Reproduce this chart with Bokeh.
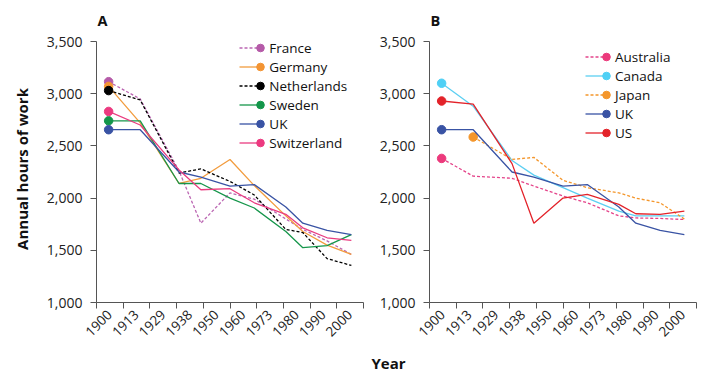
from bokeh.plotting import figure
from bokeh.layouts import row
from bokeh.models import (FixedTicker, NumeralTickFormatter, Range1d, Legend, LegendItem, Title)
from bokeh.embed import file_html
from bokeh.resources import INLINE

nan = float("nan")

# ---- data ----
years = [1900, 1913, 1929, 1938, 1950, 1960, 1973, 1980, 1990, 2000]
tick_labels = ["1900", "1913", "1929", "1938", "1950", "1960", "1973", "1980", "1990", "2000"]
y_ticks = [1000, 1500, 2000, 2500, 3000, 3500]

france      = [3115, 2950, 2260, 1760, 2050, 1990, 1800, 1700, 1590, 1460]
germany     = [3070, 2720, 2140, 2190, 2370, 2120, 1830, 1680, 1550, 1460]
netherlands = [3030, 2940, 2240, 2280, 2160, 2030, 1700, 1670, 1420, 1355]
sweden      = [2740, 2740, 2140, 2140, 2000, 1905, 1680, 1525, 1545, 1650]
uk          = [2655, 2655, 2250, 2200, 2115, 2130, 1915, 1760, 1690, 1650]
switzerland = [2830, 2700, 2270, 2080, 2090, 1955, 1845, 1715, 1620, 1595]

australia = [2380, 2210, 2190, 2115, 2020, 1955, 1830, 1810, 1805, 1795]
canada    = [3100, 2880, 2360, 2220, 2100, 2000, 1875, 1830, 1830, 1830]
japan     = [nan, 2585, 2370, 2390, 2170, 2100, 2050, 2000, 1955, 1800]
us        = [2930, 2900, 2330, 1760, 2000, 2035, 1940, 1850, 1845, 1875]

series_a = [
    ("France", france, "#bb66b2", "#b55aa8", "3 2"),
    ("Germany", germany, "#f29c3e", "#f39433", "solid"),
    ("Netherlands", netherlands, "#000000", "#000000", "3 2"),
    ("Sweden", sweden, "#16964b", "#13964a", "solid"),
    ("UK", uk, "#3953a4", "#3953a4", "solid"),
    ("Switzerland", switzerland, "#ea3c80", "#ec3a80", "solid"),
]
series_b = [
    ("Australia", australia, "#e4448a", "#ec3a7c", "3 2"),
    ("Canada", canada, "#5ccff2", "#4fd0f5", "solid"),
    ("Japan", japan, "#f4962b", "#f4962b", "3 2"),
    ("UK", uk, "#3953a4", "#3953a4", "solid"),
    ("US", us, "#e3232a", "#e3232a", "solid"),
]

FONT = "Open Sans"
X0, X1, STEP = 1895, 2005, 11
centers = [X0 + STEP / 2 + STEP * i for i in range(len(tick_labels))]
bounds = [X0 + STEP * i for i in range(len(tick_labels) + 1)]

Y0, Y1 = y_ticks[0], y_ticks[-1]
AXIS_H = 261            # pixels from 1,000 to 3,500
EXTRA = 6               # headroom above the 3,500 tick (for the legend)
y_top = Y1 + EXTRA * (Y1 - Y0) / AXIS_H


def make_panel(series, letter, left_border, right_border, ylabel, leg_xy):
    p = figure(frame_width=267, frame_height=AXIS_H + EXTRA,
               min_border_left=left_border, min_border_right=right_border,
               min_border_top=41 - EXTRA, min_border_bottom=66,
               x_range=Range1d(X0, X1), y_range=Range1d(Y0, y_top),
               output_backend="svg", toolbar_location=None)
    p.outline_line_color = None
    p.xgrid.visible = False
    p.ygrid.visible = False
    p.background_fill_color = "white"
    p.border_fill_color = "white"

    p.title.text = letter
    p.title.text_font = FONT
    p.title.text_font_style = "bold"
    p.title.text_font_size = "14.5px"
    p.title.text_color = "#111111"
    p.title.align = "left"
    p.title.offset = 1
    p.title.standoff = 12

    # x axis
    xa = p.xaxis[0]
    xa.ticker = FixedTicker(ticks=centers, minor_ticks=bounds)
    xa.major_label_overrides = {c: t for c, t in zip(centers, tick_labels)}
    xa.major_tick_out = 0
    xa.major_tick_in = 0
    xa.minor_tick_out = 6
    xa.minor_tick_in = 0
    xa.minor_tick_line_color = "#555555"
    xa.axis_line_color = "#555555"
    xa.major_label_orientation = 0.785398
    xa.major_label_text_font = FONT
    xa.major_label_text_font_size = "13.5px"
    xa.major_label_text_color = "#222222"
    xa.major_label_standoff = 4

    ya = p.yaxis[0]
    ya.ticker = FixedTicker(ticks=y_ticks, minor_ticks=[])
    ya.bounds = (Y0, Y1)
    ya.formatter = NumeralTickFormatter(format="0,0")
    ya.major_tick_out = 6
    ya.major_tick_in = 0
    ya.minor_tick_out = 0
    ya.axis_line_color = "#555555"
    ya.major_tick_line_color = "#555555"
    ya.major_label_text_font = FONT
    ya.major_label_text_font_size = "14px"
    ya.major_label_text_color = "#222222"
    ya.major_label_standoff = 8
    if ylabel:
        ya.axis_label = ylabel
        ya.axis_label_text_font = FONT
        ya.axis_label_text_font_style = "bold"
        ya.axis_label_text_font_size = "15px"
        ya.axis_label_text_color = "#111111"
        ya.axis_label_standoff = 12

    line_items, dot_items = [], []
    for name, vals, lc, dc, dash in series:
        lr = p.line(years, vals, line_color=lc, line_width=1.3, line_dash=dash)
        first = next(i for i, v in enumerate(vals) if v == v)
        dr = p.scatter([years[first]], [vals[first]], size=8.5, fill_color=dc, line_color=dc)
        line_items.append(LegendItem(label=name, renderers=[lr]))
        dot_items.append(LegendItem(label="", renderers=[dr]))

    lx, ly = leg_xy
    leg1 = Legend(items=line_items, location=(lx, ly), glyph_width=24, glyph_height=19,
                  label_height=19, label_standoff=6, spacing=0, padding=0, margin=0,
                  label_text_font=FONT, label_text_font_size="13.5px", label_text_color="#111111",
                  background_fill_alpha=0, border_line_color=None)
    leg2 = Legend(items=dot_items, location=(lx + 10.7, ly), glyph_width=20, glyph_height=19,
                  label_height=19, label_standoff=0, spacing=0, padding=0, margin=0,
                  label_text_font=FONT, label_text_font_size="13.5px",
                  background_fill_alpha=0, border_line_color=None)
    p.add_layout(leg1, "center")
    p.add_layout(leg2, "center")
    return p


pa = make_panel(series_a, "A", 96, 6, "Annual hours of work", (143.3, 150))
pb = make_panel(series_b, "B", 60, 2, None, (156, 160))
pb.add_layout(Title(text="Year", text_font=FONT, text_font_style="bold", text_font_size="15px",
                    text_color="#111111", align="left", offset=-58, standoff=14), "below")

layout = row(pa, pb)
open("out.html", "w").write(file_html(layout, INLINE))
